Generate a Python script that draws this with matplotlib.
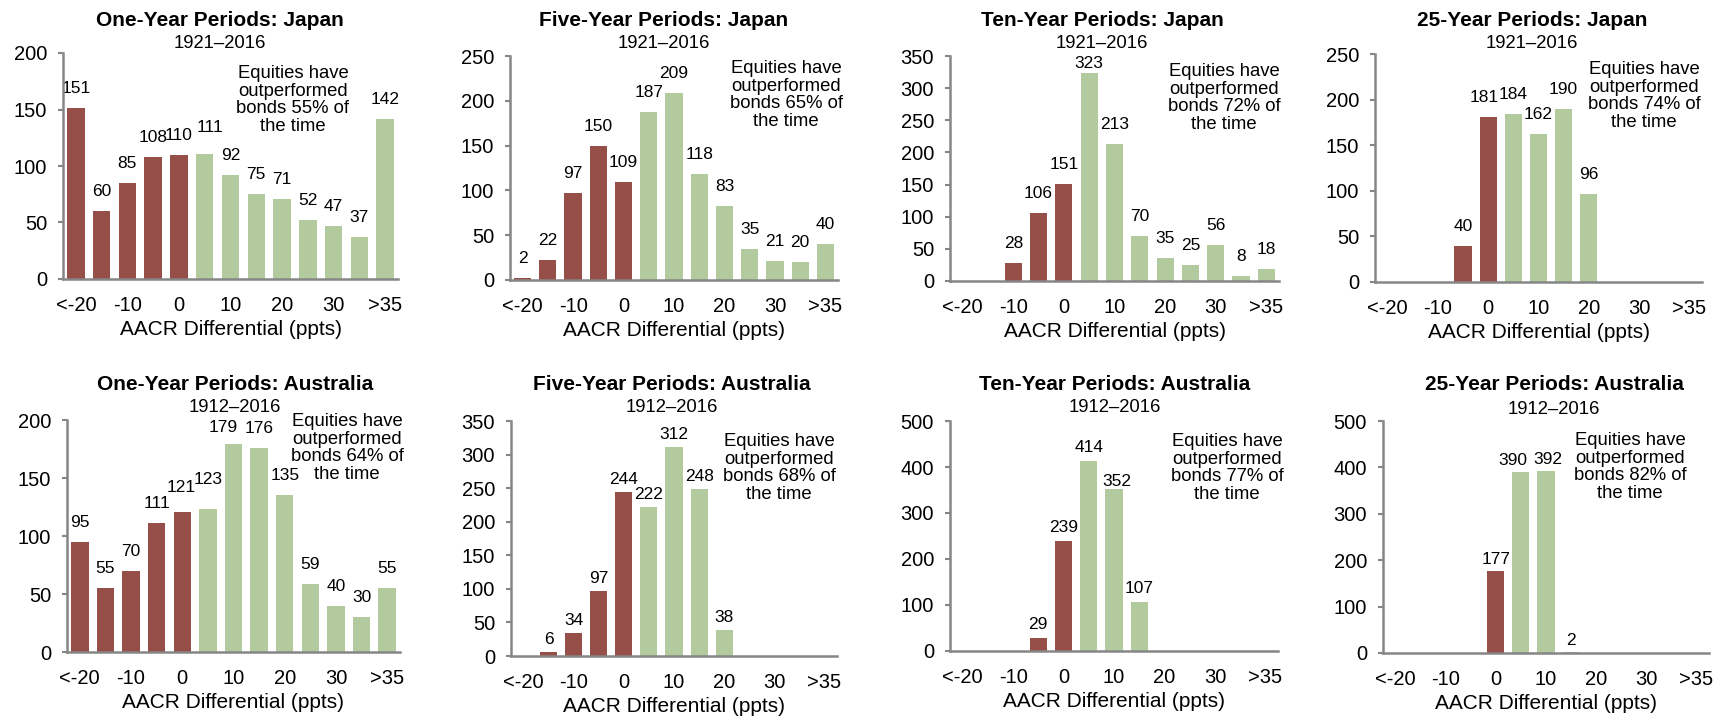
import matplotlib
matplotlib.use('Agg')
import matplotlib.pyplot as plt
import numpy as np

plt.rcParams['font.family'] = ['Liberation Sans', 'DejaVu Sans']

# ---------------- data ----------------
categories = ['<-20', '-15', '-10', '-5', '0', '5', '10', '15', '20', '25', '30', '35', '>35']
tick_labels = ['<-20', '-10', '0', '10', '20', '30', '>35']
n_negative = 5  # categories up to and including "0" are drawn in red

titles = ['One-Year Periods: Japan', 'Five-Year Periods: Japan',
          'Ten-Year Periods: Japan', '25-Year Periods: Japan',
          'One-Year Periods: Australia', 'Five-Year Periods: Australia',
          'Ten-Year Periods: Australia', '25-Year Periods: Australia']
periods = ['1921–2016', '1921–2016', '1921–2016', '1921–2016',
           '1912–2016', '1912–2016', '1912–2016', '1912–2016']
outperformed_pct = [55, 65, 72, 74, 64, 68, 77, 82]

japan_1y = [151, 60, 85, 108, 110, 111, 92, 75, 71, 52, 47, 37, 142]
japan_5y = [2, 22, 97, 150, 109, 187, 209, 118, 83, 35, 21, 20, 40]
japan_10y = [0, 0, 28, 106, 151, 323, 213, 70, 35, 25, 56, 8, 18]
japan_25y = [0, 0, 0, 40, 181, 184, 162, 190, 96, 0, 0, 0, 0]
australia_1y = [95, 55, 70, 111, 121, 123, 179, 176, 135, 59, 40, 30, 55]
australia_5y = [0, 6, 34, 97, 244, 222, 312, 248, 38, 0, 0, 0, 0]
australia_10y = [0, 0, 0, 29, 239, 414, 352, 107, 0, 0, 0, 0, 0]
australia_25y = [0, 0, 0, 0, 177, 390, 392, 2, 0, 0, 0, 0, 0]

series = [japan_1y, japan_5y, japan_10y, japan_25y,
          australia_1y, australia_5y, australia_10y, australia_25y]

y_max = [200, 250, 350, 250, 200, 350, 500, 500]
y_step = [50, 50, 50, 50, 50, 50, 100, 100]

# ---------------- layout (pixels) ----------------
W, H = 1729, 719
# left, right, top, bottom of each plot area
boxes = [(63, 398, 53, 279), (510, 838, 56, 280), (950, 1279, 56, 281), (1375, 1702, 54, 282),
         (67, 400, 420, 652), (511, 837, 421, 656), (950, 1278, 421, 651), (1383, 1709, 421, 653)]
# title centre x, title y, subtitle y
title_pos = [(220, 20, 43), (664, 20, 43), (1102, 20, 43), (1532, 20, 43),
             (235, 385, 408), (672, 385, 407), (1115, 385, 408), (1554, 385, 409)]
# annotation centre x, centre y
note_pos = [(293, 100), (786, 95), (1224, 98), (1644, 96),
            (347, 448), (779, 468), (1227, 468), (1630, 467)]
# gap (px) between bar top and label baseline, per panel
label_gap = [15, 15, 15, 15, 15, 8, 9, 7]
# individual label nudges: (panel, bar index) -> (dx px, extra lift px)
label_nudge = {(0, 5): (5, 7), (3, 4): (-4, 0), (4, 4): (-1, 5), (4, 5): (0, 10),
               (4, 6): (-10, -3), (6, 6): (3, -6), (7, 5): (-8, 0), (7, 6): (2, 0)}

RED = '#954F48'
GREEN = '#B3C99E'
SPINE = '#868686'

fig = plt.figure(figsize=(W / 100, H / 100), dpi=100)

x = np.arange(len(categories))
for i in range(8):
    l, r, t, b = boxes[i]
    ax = fig.add_axes([l / W, 1 - b / H, (r - l) / W, (b - t) / H])
    vals = series[i]
    colors = [RED if k < n_negative else GREEN for k in range(len(categories))]
    ax.bar(x, vals, width=0.68, color=colors, zorder=2)
    upp = y_max[i] / (b - t)  # data units per pixel
    for k, v in enumerate(vals):
        if v > 0:
            dx, lift = label_nudge.get((i, k), (0, 0))
            y_lab = v + (label_gap[i] + lift) * upp
            y_lab = min(y_lab, y_max[i] - 12 * upp)
            ax.annotate(str(v), (x[k], y_lab), xytext=(dx * 0.72, 0),
                        textcoords='offset points', ha='center', va='baseline',
                        fontsize=12.5, annotation_clip=False)
    ax.set_xlim(-0.5, len(categories) - 0.5)
    ax.set_ylim(0, y_max[i])
    ax.set_yticks(np.arange(0, y_max[i] + 1, y_step[i]))
    ax.set_xticks(x[::2])
    ax.set_xticklabels(tick_labels)
    ax.tick_params(axis='y', direction='out', length=3.5, width=1.5, color=SPINE,
                   pad=8, labelsize=14.5)
    ax.tick_params(axis='x', length=0, pad=12, labelsize=14.5)
    for s in ['top', 'right']:
        ax.spines[s].set_visible(False)
    for s in ['left', 'bottom']:
        ax.spines[s].set_color(SPINE)
        ax.spines[s].set_linewidth(1.8)
        ax.spines[s].set_zorder(3)
    ax.set_xlabel('AACR Differential (ppts)', fontsize=15, labelpad=4)

    tx, ty, sy = title_pos[i]
    fig.text(tx / W, 1 - ty / H, titles[i], ha='center', va='center',
             fontsize=15, fontweight='bold')
    fig.text(tx / W, 1 - sy / H, periods[i], ha='center', va='center', fontsize=13.3)
    nx, ny = note_pos[i]
    fig.text(nx / W, 1 - ny / H,
             'Equities have\noutperformed\nbonds %d%% of\nthe time' % outperformed_pct[i],
             ha='center', va='center', fontsize=13.3, linespacing=1.05)

fig.savefig('out.png', dpi=100)
